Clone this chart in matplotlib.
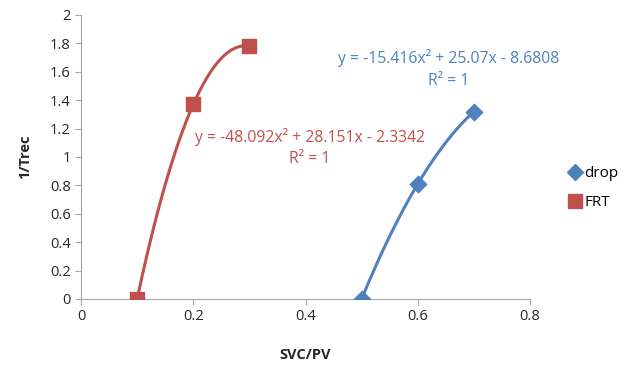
import numpy as np
import matplotlib
matplotlib.use("Agg")
import matplotlib.pyplot as plt
from matplotlib.lines import Line2D

drop_x = [0.5, 0.6, 0.7]
drop_y = [0.0, 0.81, 1.32]
frt_x = [0.1, 0.2, 0.3]
frt_y = [0.0, 1.37, 1.78]
drop_eq = "y = -15.416x² + 25.07x - 8.6808\nR² = 1"
frt_eq = "y = -48.092x² + 28.151x - 2.3342\nR² = 1"

blue = "#4F81BD"
red = "#C0504D"
plt.rcParams['font.family'] = ['Open Sans', 'DejaVu Sans']

fig = plt.figure(figsize=(6.28, 3.65), dpi=100)
ax = fig.add_axes([0.129, 0.181, 0.715, 0.778])

for xs, ys, c in [(drop_x, drop_y, blue), (frt_x, frt_y, red)]:
    p = np.polyfit(xs, ys, 2)
    xx = np.linspace(min(xs), max(xs), 200)
    ax.plot(xx, np.polyval(p, xx), color=c, lw=2.2, zorder=2)

ax.scatter(drop_x, drop_y, marker='D', s=70, color=blue, zorder=3)
ax.scatter(frt_x, frt_y, marker='s', s=110, color=red, zorder=3)

ax.text(0.655, 1.62, drop_eq, color=blue, fontsize=11.3, ha='center', va='center', linespacing=1.45)
ax.text(0.408, 1.065, frt_eq, color=red, fontsize=11.3, ha='center', va='center', linespacing=1.4)

ax.set_xlim(0, 0.8)
ax.set_ylim(0, 2)
ax.set_xticks(np.arange(0, 0.81, 0.2))
ax.set_xticklabels(['0', '0.2', '0.4', '0.6', '0.8'])
ax.set_yticks(np.arange(0, 2.01, 0.2))
ax.set_yticklabels(['0', '0.2', '0.4', '0.6', '0.8', '1', '1.2', '1.4', '1.6', '1.8', '2'])
for s in ['top', 'right']:
    ax.spines[s].set_visible(False)
for s in ['left', 'bottom']:
    ax.spines[s].set_color('#A6A6A6')
ax.tick_params(colors='#A6A6A6', labelcolor='#262626', labelsize=10.5, length=4, direction='out')
ax.set_xlabel('SVC/PV', fontsize=10.5, fontweight='bold', color='#262626', labelpad=17)
ax.set_ylabel('1/Trec', fontsize=10.5, fontweight='bold', color='#262626', labelpad=13)

handles = [Line2D([], [], marker='D', color=blue, ls='', markersize=8),
           Line2D([], [], marker='s', color=red, ls='', markersize=10)]
fig.legend(handles, ['drop', 'FRT'], loc='center left', bbox_to_anchor=(0.882, 0.485),
           frameon=False, fontsize=11, handletextpad=0.1, labelspacing=0.9, handlelength=1.0)

fig.savefig('out.png', dpi=100)
